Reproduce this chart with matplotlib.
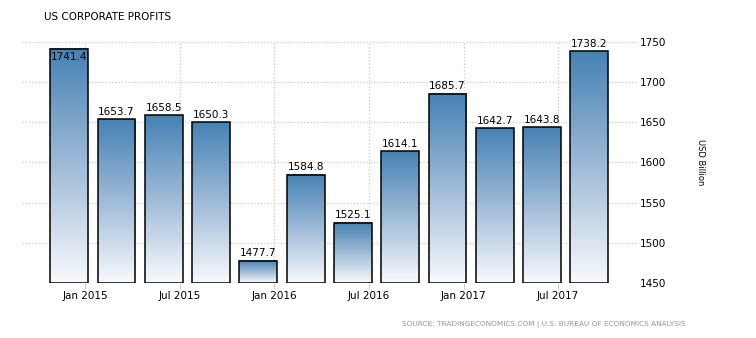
import numpy as np
import matplotlib
matplotlib.use("Agg")
from matplotlib import pyplot as plt
from matplotlib.colors import LinearSegmentedColormap

values = [1741.4, 1653.7, 1658.5, 1650.3, 1477.7, 1584.8,
          1525.1, 1614.1, 1685.7, 1642.7, 1643.8, 1738.2]
tick_pos = [0.34, 2.34, 4.34, 6.34, 8.34, 10.34]
tick_labels = ["Jan 2015", "Jul 2015", "Jan 2016", "Jul 2016", "Jan 2017", "Jul 2017"]
y_ticks = [1450, 1500, 1550, 1600, 1650, 1700, 1750]

fig = plt.figure(figsize=(7.56, 3.38), dpi=100)
ax = fig.add_axes([0.029, 0.163, 0.813, 0.713])

ymin, ymax = 1450, 1750
width = 0.8
cmap = LinearSegmentedColormap.from_list("bar", ["#f8fafd", "#9fbbd8", "#4682b4"])
grad = np.linspace(0, 1, 256).reshape(-1, 1)

for i, v in enumerate(values):
    ax.imshow(grad, cmap=cmap, origin="lower", aspect="auto",
              extent=[i - width / 2, i + width / 2, ymin, v], zorder=2)
    ax.bar(i, v - ymin, bottom=ymin, width=width, facecolor="none",
           edgecolor="black", linewidth=1.1, zorder=3)
    # labels that would run past the top go inside the bar
    if v + 10 > ymax:
        ax.text(i, v - 4, f"{v:.1f}", ha="center", va="top", fontsize=7.5, zorder=4)
    else:
        ax.text(i, v + 3, f"{v:.1f}", ha="center", va="bottom", fontsize=7.5,
                zorder=4, clip_on=False)

ax.set_xlim(-1, 12)
ax.set_ylim(ymin, ymax)
ax.set_xticks(tick_pos)
ax.set_xticklabels(tick_labels, fontsize=7.5)
ax.set_yticks(y_ticks)
ax.yaxis.tick_right()
ax.tick_params(axis="y", length=0, labelsize=7.5, pad=2)
ax.tick_params(axis="x", length=4, color="#cccccc", pad=2)
ax.grid(True, linestyle=":", color="#c8c8c8", linewidth=0.9, zorder=0)
ax.set_axisbelow(True)
for s in ax.spines.values():
    s.set_visible(False)

fig.text(700 / 756, 1 - 162 / 338, "USD Billion", rotation=-90, ha="center",
         va="center", fontsize=6)
fig.text(44 / 756, 1 - 17 / 338, "US CORPORATE PROFITS", ha="left", va="center",
         fontsize=7.5)
fig.text(686 / 756, 1 - 325 / 338,
         "SOURCE: TRADINGECONOMICS.COM | U.S. BUREAU OF ECONOMICS ANALYSIS",
         ha="right", va="center", fontsize=5.3, color="#8a97aa")

fig.savefig("out.png", dpi=100)
